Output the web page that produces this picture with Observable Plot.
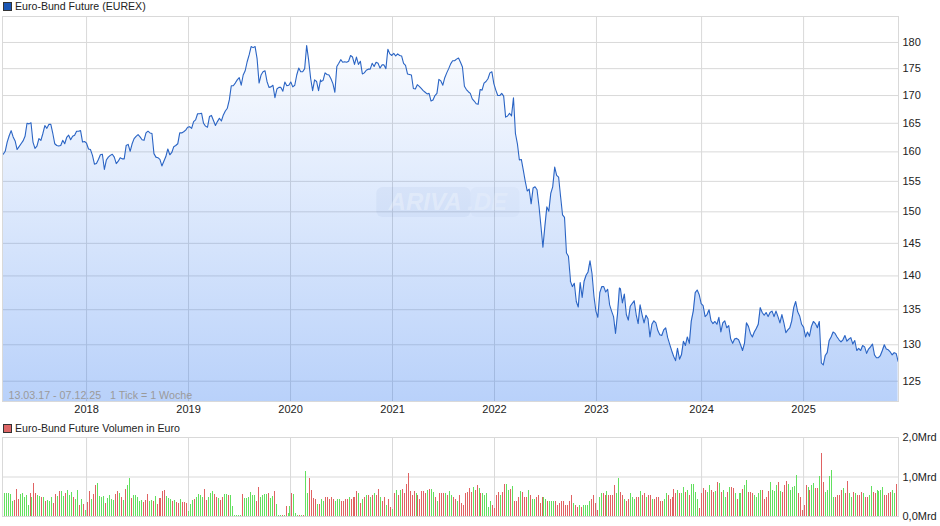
<!DOCTYPE html>
<html><head><meta charset="utf-8">
<script src="https://cdn.jsdelivr.net/npm/d3@7"></script>
<script src="https://cdn.jsdelivr.net/npm/@observablehq/plot@0.6"></script>
<style>
html,body{margin:0;padding:0;background:#fff;font-family:"Liberation Sans",Arial,sans-serif;}
#wrap{width:940px;}
.leg{position:relative;font-size:10.6px;color:#222;white-space:nowrap;}
.leg i{position:absolute;left:3px;width:7px;height:7px;border:1px solid #333;display:block;}
.leg span{position:absolute;left:15px;line-height:13px;}
svg{display:block;}
</style></head><body>
<div id="wrap">
<div class="leg" style="height:16px"><i style="top:2px;background:#1a56b5"></i><span style="top:0">Euro-Bund Future (EUREX)</span></div>
<div id="p"></div>
<div class="leg" style="height:20px"><i style="top:8px;background:#dd6666"></i><span style="top:6px">Euro-Bund Future Volumen in Euro</span></div>
<div id="v"></div>
</div>
<script>
const periodNote = "13.03.17 - 07.12.25\u00a0\u00a0\u00a01 Tick = 1 Woche";
const yearLabels = ["2018","2019","2020","2021","2022","2023","2024","2025"];
const yearWeeks = [42,94,146,198,250,302,355.6,407.6];
const priceTicks = [125,130,135,140,145,150,155,160,165,170,175,180];
const volumeTicks = [0,1,2];

// weekly close, in four stretches
const priceA = [159.6,160.1,161.7,162.8,163.7,162.6,161.9,160.4,160.9,161.4,161.9,162.7,165,164.9,165.1,161.7,160.6,161,162.3,162,163.2,164.6,164.1,164.8,164.8,163.2,161.4,161.1,161,161.1,162,161.4,162.5,162.9,162.1,162.7,162.9,163.6,163.6,163.7,161.7,161.8,161.5,160.5,160.4,159.4,157.9,158,158.7,159.5,159.6,157,158.6,159.1,159.4,159.6,159.1,158,158.4,159,158.8,158.8,161.1,161.3,160.1,161.4,162.3,162.7,163,162.6,162.1,162,163.3,163.6,163.3,163.2,159.7,159.1,159,158.7,157.6,158.4,159.2,160.5,159.5,159.9,160.9,161.1,161.4,163.3,163.3,163.5,163.8,164.3,164.4,164.1,165.3,165.6,166.7,166.7,166.8,165,164.5,164.3,166.2,166.4,165.5,164.6,165.3,165.9,165.4,166.5,167.2,167.7,169.2,171.8,171.8,172.3,172.9,173.3,171.9,173.8,174.6,176.3,177.6,179.2,179,179.2,176.9,172.3,173.8,174.4,174.6,172.6,171.5,171.6,171.9,169.6,171.2,171.5,171.5,170.8,172.5,171.8,171.9,172.5,171.6,171.9,173.8,175.1,174.4,174.4,175,179.4,176.6,173.2,170.9,172.9,172.6,170.9,172.9];
const priceB = [172.6,172.8,174.2,173.9,173.8,173.1,172.2,170.6,175.4,176,176.7,176.2,176.3,176.2,176.4,177.5,177.2,175.8,177.2,175.8,176.4,174,174.2,174.7,174.9,174.9,176,175.4,176.2,176,175.1,175.7,175.7,175,178.7,177.8,177.5,177.9,177.4,177.8,177.5,177.4,176,175.6,174,173.9,173.8,171.3,171.2,172,171.7,171.3,170.9,170.6,170.3,170.4,169,169.2,170,170.4,173,172.7,171.9,173.3,174.2,175,175.9,176.5,176.5,176.8,177,176.2,175.3,171.7,171.1,170.7,170.4,169.4,169,168.5,168.4,171.1,171,172.3,172.6,173.1,174.2,174.4,172.2,171,170,170,170.4,169.9,166.1,166.3,166.8,166.3,169.6,163.2,161.4,158.6,158.7,156.9,155,153.4,153.7,151.3,153.9,154.1,153.6,150.9,147.7,144.4,147.7,150.8,150.1,153,154.1,157.4,156,155.7,152.5,149.5,149.1,143.5,143,139.5];
const priceC = [139.2,138.4,138.9,136.2,135.4,139,136.8,139.2,140.1,140.6,142.3,140.4,137,134.8,133.9,137.5,138.4,138.4,137.6,138,135.7,134.8,134,131.6,134.3,138.2];
const priceD = [138.1,136,137.3,134.3,133.5,135.5,135.9,136.3,134.3,133,135.7,134.3,133.1,134.2,133.7,131.1,132.9,133.4,133.1,132,131.4,131.3,132.1,132.4,131,130.1,129.2,128.4,127.8,129.5,128,128.6,130.5,129.9,131.1,130.2,133.4,134.8,137.5,137.9,137.2,135.9,135.6,134,134.3,135,133.4,133,133.3,132.9,133.9,131.8,133.1,133.4,132.4,132.7,130.8,130.2,130.8,130.9,130.7,130,129.2,130.2,133.1,132.6,131.6,131.1,131.8,132.3,132.9,135.3,134.6,134.2,134.6,134,134.6,134.8,134,134.8,134,133.1,134.3,133.1,131.7,132.1,132.4,133.4,135.3,136.2,134.7,134.1,132.9,132.5,131.1,131.8,131.2,132.6,133.3,133,132.4,133.3,127.5,127.2,128.5,128.9,130.6,131.1,131.8,131.6,131.1,130.7,130.4,130.7,131.3,130.5,130.8,131,130.1,130.6,129.2,129.5,129.2,129.9,129.7,128.8,129.4,129.7,130.1,128.6,128.2,128.2,128.5,129.2,130,129.4,129.3,129,128.6,128.9,128.8,127.7];

// weekly volume in Mrd Euro; g = green bar, r = red bar
const volA = [.58,.58,.58,.55,.37,.40,.68,.42,.55,.59, .48,.53,.27,.58,.48,.83,.59,.53,.51,.47, .47,.38,.40,.37,.48,.32,.55,.51,.63,.63, .51,.59,.65,.53,.61,.49,.44,.65,.27,.44, .30,.15,.36,.63,.42,.55,.78,.83,.51,.48, .51,.32,.45,.53,.44,.41,.55,.63,.58,.49, .41,.68,.78,.96,.46,.53,.53,.47,.38,.41, .36,.41,.55,.38,.41,.37,.51,.30,.45,.45, .63,.65,.51,.45,.42,.37,.40,.35,.34,.42, .35,.35,.32,.12,.30,.41,.42,.47,.55,.53, .47,.68,.40,.47,.58,.63,.55,.49,.45,.40, .47,.55,.55,.53,.53,.25,.02,.02,.02,.02, .55,.45,.45,.47,.61,.53,.53,.38,.73,.49, .53,.55,.55,.58,.45,.50,.63,.30,.02,.02, .02,.02,.25,.07,.25,.58,.55,.07,.02,.02, .02,.02,1.14,.59,.96,.65,.45,.42,.30,.30];
const dirA = ["gggggrrrgg","gggrgrrggr","grgggrrgrg","grgggrggrg","rgrrgrrggg","grggggrrgr","grggrggggg","rrrggrgrrr","rrgggrgrrg","rrrgggrggg","grrgggrrgr","rggrgggggg","rggggggrrg","gggrggrggg","rgrggrgggr","grggrrrrgr"].join("");
const volB = [.44,.39,.47,.47,.44,.47,.44,.39,.42,.42, .39,.39,.42,.42,.47,.42,.47,.47,.64,.59, .32,.44,.49,.52,.52,.47,.52,.59,.54,.69, .49,.39,.49,.29,.44,.24,.17,.59,.67,.54, .67,.69,.59,.82,1.09,.64,.52,.64,.57,.52, .44,.64,.64,.59,.67,.69,.69,.62,.49,.39, .59,.57,.57,.59,.52,.64,.52,.47,.42,.39, .54,.32,.29,.57,.62,.72,.62,.74,.67,.79, .72,.57,.57,.54,.59,.24,.39,.29,.19,.54, .62,.54,.62,.82,.82,.67,.69,.77,.37,.39, .47,.64,.62,.47,.49,.67,.54,.42,.44,.47, .52,.34,.49,.47,.42,.39,.37,.37,.39,.37, .27,.32,.37,.37,.29,.29,.39,.52,.32,.27, .24,.29,.22,.27,.29,.27,.39,.44,.54,.32, .14,.49,.59,.57,.52,.64,.54,.54,.52,.79, .59,.97,.62,.54,.42,.39,.44];
const dirB = ["ggrrrrrggg","rrrrgrrrrg","rgrgrgrgrr","grrgrrgrgr","grrrrrrrgr","rrrrgrggrg","rrrgrggrrg","rrrrrrrgrr","grgggggrrr","rgrrggrgrr","rgrrrgrggr","rrrggrgggr","rrrrrrrrgr","rgrggggrrr","rggrrgrrrr","ggrrgrr"].join("");
const volC = [.57,.47,.44,.47,.49,.64,.54,.57,.47,.52, .52,.44,.44,.47,.47,.39,.37,.42,.57,.52, .44,.47,.69,.59,.67,.59,.57,.74,.62,.67, .52,.82,.82,.62,.42,.19,.57,.72,.67,.62, .79,.67,.62,.64,.87,.84,.62,.67,.47,.62, .74,.74,.72,.57,.44,.57,.57,.69,.79,.92, .62,.62,.59,.54,.49,.57,.67,.67,.42,.47, .64,.87,.67,.64,.79,.87,.64,.62,.79,.89, .82,.67,.74,.77,1.04,.59,.49,.14,.29,.79, .74,.67,.79,.84,.72,.72,1.02,1.59,.87,.62, .67,1.02,1.17,.49,.47,.52,.54,.67,.72,.59, .89,.59,.49,.62,.59,.54,.52,.62,.59,.47, .47,.52,.77,.62,.57,.67,.64,.67,.74,.54, .54,.59,.62,.67,.59,.82];
const dirC = ["gggrrgrrgr","rgrrrrrggr","rrrrgrggrg","rggggrrrrg","grrgrgrggr","grrgrggrgg","rrrggggrrr","rggggrgrrr","gggggrrrrr","grggrrgrrg","ggggrrrrgr","rggrgrrrgr","rggrrggggr","rrrggr"].join("");

// each stretch with the week it starts and ends on
const priceSpans = [[priceA,-0.5,161.3],[priceB,161.6,288.7],[priceC,288.7,313.7],[priceD,314.2,455.8]];
const volSpans = [[volA,dirA,0,160.9],[volB,dirB,161.8,318.4],[volC,dirC,319.4,455.1]];

const spread = (n,a,b,j) => a + (b-a)*j/(n-1);
const price = priceSpans.flatMap(([arr,a,b]) => arr.map((v,j)=>({w:spread(arr.length,a,b,j),v})));
const volume = volSpans.flatMap(([arr,dir,a,b]) => arr.map((v,j)=>({w:spread(arr.length,a,b,j),v,d:dir[j]})));

const gridColor = "#d9d9d9";
const xDomain = [-0.87,456];
const font = {fontFamily:'"Liberation Sans",Arial,sans-serif',fontSize:"11px",background:"#fff",color:"#222",overflow:"visible"};
const yBase = 122.3;

const gradient = () => {
  const defs = d3.create("svg:defs");
  const g = defs.append("linearGradient").attr("id","bundFill").attr("x1",0).attr("y1",0).attr("x2",0).attr("y2",1);
  g.append("stop").attr("offset","0").attr("stop-color","#3078f0").attr("stop-opacity",0.025);
  g.append("stop").attr("offset","1").attr("stop-color","#3078f0").attr("stop-opacity",0.34);
  return defs.node();
};

document.getElementById("p").append(Plot.plot({
  width:940,height:400,marginLeft:2,marginRight:42,marginTop:0,marginBottom:15,style:font,
  x:{domain:xDomain,axis:null},
  y:{type:"log",domain:[yBase,185.1],axis:null},
  marks:[
    gradient,
    Plot.ruleY(priceTicks,{stroke:gridColor}),
    Plot.ruleX(yearWeeks,{stroke:gridColor}),
    Plot.rect([{}],{x1:()=>190,x2:()=>238,y1:()=>149.1,y2:()=>154,fill:"#4a6aa8",fillOpacity:0.06,rx:6}),
    Plot.rect([{}],{x1:()=>238,x2:()=>263,y1:()=>149.1,y2:()=>154,fill:"#4a6aa8",fillOpacity:0.03,rx:6}),
    Plot.areaY(price,{x:"w",y1:()=>yBase,y2:"v",fill:"url(#bundFill)"}),
    Plot.text(["ARIVA"],{x:()=>196,y:()=>151.5,text:d=>d,textAnchor:"start",fill:"#fff",fillOpacity:0.3,fontSize:24,fontWeight:"bold",fontStyle:"italic"}),
    Plot.text([".DE"],{x:()=>236,y:()=>151.5,text:d=>d,textAnchor:"start",fill:"#fff",fillOpacity:0.2,fontSize:24,fontWeight:"bold",fontStyle:"italic"}),
    Plot.lineY(price,{x:"w",y:"v",stroke:"#2a64c4",strokeWidth:1.1}),
    Plot.frame({stroke:gridColor}),
    Plot.text([periodNote],{frameAnchor:"bottom-left",dx:6,dy:-3,text:d=>d,fill:"#9a9a9a",fontSize:10.7}),
    Plot.axisY(priceTicks,{anchor:"right",tickSize:0,tickPadding:4,label:null,fontSize:11}),
    Plot.axisX(yearWeeks,{anchor:"bottom",tickSize:0,tickPadding:4,label:null,tickFormat:w=>yearLabels[yearWeeks.indexOf(w)],fontSize:11})
  ]
}));

document.getElementById("v").append(Plot.plot({
  width:940,height:90,marginLeft:2,marginRight:42,marginTop:1,marginBottom:10,style:font,
  x:{domain:xDomain,axis:null},
  y:{domain:[0,2],axis:null},
  marks:[
    Plot.ruleY(volumeTicks,{stroke:gridColor}),
    Plot.ruleX(yearWeeks,{stroke:gridColor}),
    Plot.frame({stroke:gridColor}),
    Plot.ruleX(volume.filter(d=>d.d==="g"),{x:"w",y1:()=>0,y2:"v",stroke:"#62e05e",strokeWidth:1,shapeRendering:"crispEdges"}),
    Plot.ruleX(volume.filter(d=>d.d==="r"),{x:"w",y1:()=>0,y2:"v",stroke:"#e06262",strokeWidth:1,shapeRendering:"crispEdges"}),
    Plot.axisY(volumeTicks,{anchor:"right",tickSize:0,tickPadding:4,label:null,fontSize:11,tickFormat:d=>d.toFixed(1).replace(".",",")+"Mrd"})
  ]
}));
</script>
</body></html>
